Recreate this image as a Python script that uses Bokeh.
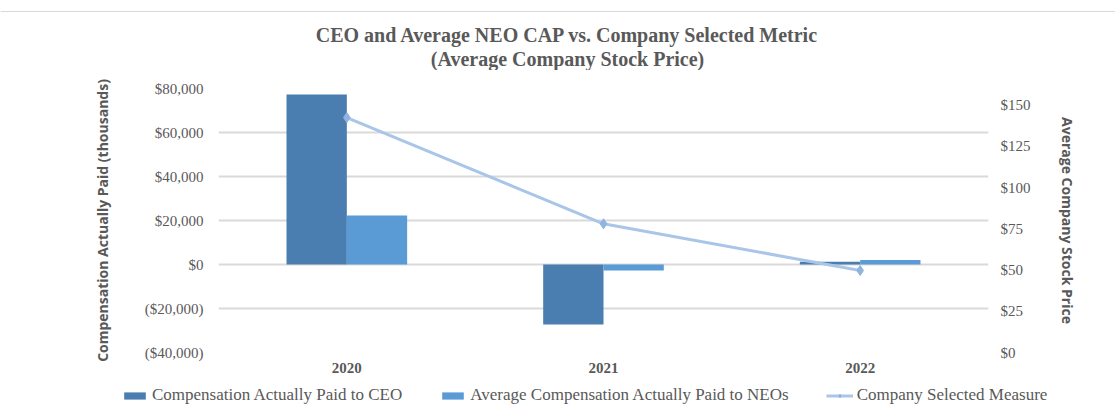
from bokeh.plotting import figure
from bokeh.layouts import column
from bokeh.models import (ColumnDataSource, FactorRange, Range1d, LinearAxis, FixedTicker,
                          Legend, LegendItem, Label, Span)
from bokeh.transform import dodge
from bokeh.embed import file_html
from bokeh.resources import INLINE

# ---- data ----
years = ["2020", "2021", "2022"]
ceo_cap = [77300, -27300, 1300]          # $ thousands
neo_cap = [22300, -2700, 2100]           # $ thousands
stock_price = [142.4, 78.0, 49.7]        # $
left_ticks = [-40000, -20000, 0, 20000, 40000, 60000, 80000]
right_ticks = [0, 25, 50, 75, 100, 125, 150]

title_lines = ["CEO and Average NEO CAP vs. Company Selected Metric",
               "(Average Company Stock Price)"]
series_names = ["Compensation Actually Paid to CEO",
                "Average Compensation Actually Paid to NEOs",
                "Company Selected Measure"]


def money(v):
    s = "${:,.0f}".format(abs(v))
    return "(" + s + ")" if v < 0 else s


TXT = "#595959"
SERIF = "Liberation Serif"
SANS = "Open Sans"
C_CEO = "#4a7eb0"
C_NEO = "#5b9bd5"
C_LINE = "#a9c5e8"
C_MARK = "#8fb4e0"
W = 1115


def blank(h, x_range, y_range):
    f = figure(width=W, height=h, x_range=x_range, y_range=y_range,
               x_axis_type=None, y_axis_type=None, output_backend="svg",
               toolbar_location=None, min_border=0)
    f.frame_align = False
    f.outline_line_color = None
    f.grid.visible = False
    return f


src = ColumnDataSource(dict(year=years, ceo=ceo_cap, neo=neo_cap, price=stock_price))

# ---------- title strip ----------
pt = blank(70, Range1d(0, 1), Range1d(0, 1))
pt.add_layout(Span(location=59, location_units="screen", dimension="width",
                   line_color="#d9d9d9", line_width=1))
for i, t in enumerate(title_lines):
    pt.add_layout(Label(x=567, y=36 - 24 * i, x_units="screen", y_units="screen", text=t,
                        text_align="center", text_baseline="middle",
                        text_font=SERIF, text_font_style="bold",
                        text_font_size="20px", text_color=TXT))

# ---------- main chart ----------
p = figure(width=W, height=315, x_range=FactorRange(*years),
           y_range=Range1d(-40000, 80000), output_backend="svg",
           toolbar_location=None, min_border_left=218, min_border_right=127,
           min_border_top=18, min_border_bottom=33)
p.frame_align = False
p.extra_y_ranges = {"price": Range1d(0, 160)}
p.outline_line_color = None

p.xgrid.grid_line_color = None
p.ygrid.ticker = FixedTicker(ticks=left_ticks)
p.ygrid.grid_line_color = "#d9d9d9"
p.ygrid.grid_line_width = 2

bw = 0.235
p.vbar(x=dodge("year", -bw / 2, range=p.x_range), top="ceo", bottom=0, width=bw,
       source=src, fill_color=C_CEO, line_color=None)
p.vbar(x=dodge("year", bw / 2, range=p.x_range), top="neo", bottom=0, width=bw,
       source=src, fill_color=C_NEO, line_color=None)
p.line(x="year", y="price", source=src, y_range_name="price",
       line_color=C_LINE, line_width=3)
p.scatter(x="year", y="price", source=src, y_range_name="price", marker="diamond",
          size=10, fill_color=C_MARK, line_color=C_MARK)

ya = p.yaxis[0]
ya.ticker = FixedTicker(ticks=left_ticks)
ya.major_label_overrides = {t: money(t) for t in left_ticks}
ya.axis_line_color = None
ya.major_tick_line_color = None
ya.minor_tick_line_color = None
ya.major_tick_out = 0
ya.major_label_standoff = 15
ya.major_label_text_font = SERIF
ya.major_label_text_font_size = "15px"
ya.major_label_text_color = TXT
ya.axis_label = "Compensation Actually Paid (thousands)"
ya.axis_label_text_font = SANS
ya.axis_label_text_font_style = "bold"
ya.axis_label_text_font_size = "14px"
ya.axis_label_text_color = TXT
ya.axis_label_standoff = 30

ra = LinearAxis(y_range_name="price", ticker=FixedTicker(ticks=right_ticks))
ra.major_label_overrides = {t: money(t) for t in right_ticks}
ra.axis_line_color = None
ra.major_tick_line_color = None
ra.minor_tick_line_color = None
ra.major_tick_out = 0
ra.major_label_standoff = 12
ra.major_label_text_font = SERIF
ra.major_label_text_font_size = "15px"
ra.major_label_text_color = TXT
ra.axis_label = "Average Company Stock Price"
ra.axis_label_text_font = SANS
ra.axis_label_text_font_style = "bold"
ra.axis_label_text_font_size = "14px"
ra.axis_label_text_color = TXT
ra.axis_label_standoff = 24
p.add_layout(ra, "right")

xa = p.xaxis[0]
xa.axis_line_color = None
xa.major_tick_line_color = None
xa.major_tick_out = 0
xa.major_label_standoff = 10
xa.major_label_text_font = SERIF
xa.major_label_text_font_style = "bold"
xa.major_label_text_font_size = "15px"
xa.major_label_text_color = TXT

# ---------- legend strip (same series, kept out of view; only the key shows) ----------
pl = blank(28, FactorRange(*years), Range1d(1e6, 2e6))
lg_ceo = pl.vbar(x="year", top="ceo", bottom=0, width=0, source=src,
                 fill_color=C_CEO, line_color=None)
lg_neo = pl.vbar(x="year", top="neo", bottom=0, width=0, source=src,
                 fill_color=C_NEO, line_color=None)
lg_ln = pl.line(x="year", y="price", source=src, line_color=C_LINE, line_width=3)
lg_mk = pl.scatter(x="year", y="price", source=src, marker="diamond", size=9,
                   fill_color=C_MARK, line_color=C_MARK)
legend = Legend(items=[LegendItem(label=series_names[0], renderers=[lg_ceo]),
                       LegendItem(label=series_names[1], renderers=[lg_neo]),
                       LegendItem(label=series_names[2], renderers=[lg_ln, lg_mk])],
                location=(121, 8), orientation="horizontal",
                glyph_width=27, glyph_height=9, label_standoff=4, spacing=37,
                padding=0, margin=0, border_line_color=None,
                background_fill_alpha=0,
                label_text_font=SERIF, label_text_font_size="17px",
                label_text_color=TXT)
pl.add_layout(legend, "center")

lay = column(pt, p, pl, spacing=0)
open("out.html", "w").write(file_html(lay, INLINE))
